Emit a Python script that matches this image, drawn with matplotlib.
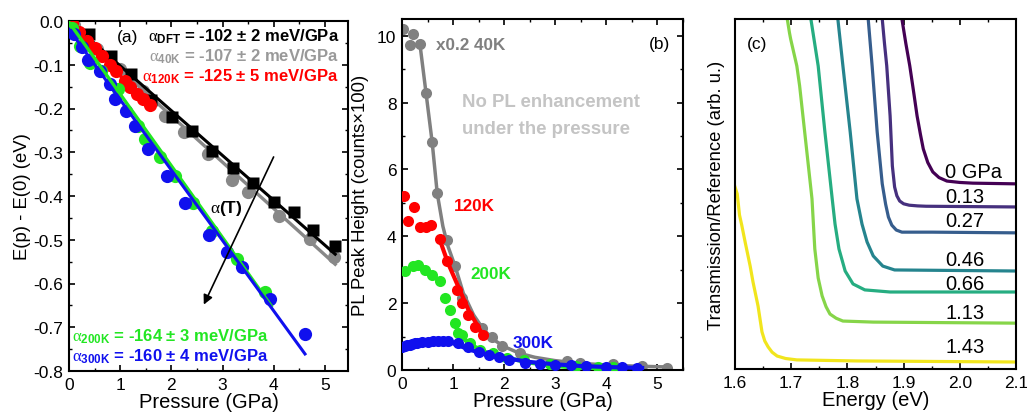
import matplotlib
matplotlib.use("Agg")
import matplotlib.pyplot as plt
from matplotlib.ticker import MultipleLocator, NullLocator, FormatStrFormatter
from matplotlib import cm

plt.rcParams['font.family'] = ['Liberation Sans', 'DejaVu Sans']
plt.rcParams['axes.unicode_minus'] = False
plt.rcParams['mathtext.fontset'] = 'custom'
plt.rcParams['mathtext.rm'] = 'Liberation Serif'
plt.rcParams['mathtext.it'] = 'Liberation Serif:italic'
plt.rcParams['mathtext.bf'] = 'Liberation Sans:bold'

# ---------------- Panel (a) data ----------------
dft_x = [0.385, 0.815, 1.21, 1.60, 2.01, 2.40, 2.79, 3.20, 3.60, 4.00, 4.39, 4.77, 5.20]
dft_y = [-0.030, -0.081, -0.122, -0.181, -0.220, -0.252, -0.298, -0.337, -0.371, -0.414, -0.437, -0.478, -0.515]
dft_fit_x = [0.0, 5.2]
dft_fit_y = [0.0, -0.533]

k40_x = [0.1, 0.55, 1.0, 1.45, 1.88, 2.25, 2.72, 3.18, 3.50, 4.10, 4.70, 5.18]
k40_y = [-0.010, -0.065, -0.110, -0.160, -0.217, -0.253, -0.305, -0.363, -0.390, -0.446, -0.499, -0.540]
k40_fit_x = [0.0, 5.2]
k40_fit_y = [-0.005, -0.556]

k120_x = [0.05, 0.2, 0.35, 0.5, 0.65, 0.8, 0.92, 1.09, 1.2, 1.33, 1.45, 1.58]
k120_y = [-0.005, -0.025, -0.045, -0.062, -0.080, -0.100, -0.115, -0.137, -0.150, -0.167, -0.178, -0.192]
k120_fit_x = [0.0, 1.6]
k120_fit_y = [0.0, -0.200]

k200_x = [0.05, 0.21, 0.41, 0.63, 0.96, 1.35, 1.48, 1.78, 2.07, 2.42, 2.79, 3.28, 3.83]
k200_y = [-0.015, -0.057, -0.095, -0.114, -0.156, -0.240, -0.270, -0.310, -0.355, -0.415, -0.480, -0.545, -0.620]
k200_fit_x = [0.0, 3.95]
k200_fit_y = [-0.003, -0.651]

k300_x = [0.1, 0.25, 0.37, 0.6, 0.8, 0.9, 1.12, 1.28, 1.54, 1.91, 2.26, 2.73, 3.08, 3.38, 3.92, 4.61]
k300_y = [-0.030, -0.060, -0.088, -0.114, -0.145, -0.179, -0.206, -0.240, -0.293, -0.355, -0.415, -0.490, -0.528, -0.563, -0.636, -0.716]
k300_fit_x = [0.0, 4.61]
k300_fit_y = [-0.019, -0.761]

arrow_start = (4.02, -0.305)
arrow_end = (2.61, -0.654)

# ---------------- Panel (b) data ----------------
pl40_x = [0.02, 0.16, 0.22, 0.35, 0.47, 0.59, 0.69, 0.88, 1.04, 1.17, 1.56, 1.76, 1.96, 2.30, 3.22, 3.48, 4.13, 4.69, 5.18]
pl40_y = [10.2, 9.73, 10.05, 9.76, 8.29, 6.82, 5.28, 3.90, 3.10, 2.16, 1.26, 1.00, 0.72, 0.51, 0.26, 0.21, 0.17, 0.12, 0.07]
pl40_line_x = [0.35, 0.47, 0.59, 0.69, 0.80, 0.90, 1.04, 1.20, 1.40, 1.60, 1.80, 2.00, 2.30, 2.60, 3.00, 3.50, 4.00, 4.50, 5.20]
pl40_line_y = [9.76, 8.29, 6.82, 5.28, 4.30, 3.70, 3.10, 2.30, 1.65, 1.20, 0.90, 0.70, 0.50, 0.38, 0.28, 0.20, 0.15, 0.12, 0.09]

pl120_x = [0.03, 0.12, 0.23, 0.36, 0.47, 0.57, 0.74, 0.88, 1.07, 1.18, 1.29, 1.42, 1.59]
pl120_y = [5.20, 4.45, 4.88, 4.27, 4.28, 4.35, 3.93, 3.25, 2.40, 2.00, 1.65, 1.30, 1.05]
pl120_line_x = [0.75, 0.90, 1.10, 1.30, 1.45, 1.60]
pl120_line_y = [3.85, 3.20, 2.50, 1.80, 1.40, 1.00]

pl200_x = [0.06, 0.22, 0.32, 0.45, 0.58, 0.74, 0.84, 0.94, 1.04, 1.10, 1.17, 1.33, 1.53, 1.79, 2.05, 2.38, 2.90, 3.40, 3.84, 4.13]
pl200_y = [2.95, 3.12, 3.15, 3.00, 2.85, 2.65, 2.15, 1.80, 1.40, 1.10, 1.05, 0.80, 0.60, 0.50, 0.35, 0.30, 0.18, 0.13, 0.10, 0.08]
pl200_line_x = [1.10, 1.30, 1.60, 2.00, 2.50, 3.00, 3.50, 3.95]
pl200_line_y = [1.10, 0.80, 0.55, 0.38, 0.22, 0.12, 0.06, 0.03]

pl300_x = [0.0, 0.05, 0.1, 0.15, 0.2, 0.25, 0.3, 0.4, 0.5, 0.6, 0.7, 0.8, 0.9, 1.1, 1.3, 1.5, 1.7, 1.9, 2.1, 2.4, 2.7, 3.0, 3.3, 3.6, 4.0, 4.3, 4.6]
pl300_y = [0.68, 0.72, 0.74, 0.76, 0.78, 0.80, 0.80, 0.83, 0.84, 0.86, 0.87, 0.88, 0.88, 0.82, 0.70, 0.55, 0.45, 0.38, 0.30, 0.22, 0.17, 0.15, 0.14, 0.12, 0.10, 0.09, 0.07]
pl300_line_x = [1.0, 1.3, 1.6, 2.0, 2.5, 3.0, 3.5, 4.0, 4.7]
pl300_line_y = [0.80, 0.62, 0.48, 0.36, 0.24, 0.17, 0.12, 0.09, 0.06]

# ---------------- Panel (c) data ----------------
pressures = ['0 GPa', '0.13', '0.27', '0.46', '0.66', '1.13', '1.43']
trans_E = [
    [1.897, 1.904, 1.911, 1.918, 1.924, 1.930, 1.935, 1.943, 1.952, 1.963, 1.977, 2.000, 2.023, 2.100],
    [1.862, 1.866, 1.870, 1.876, 1.880, 1.884, 1.888, 1.893, 1.900, 1.910, 1.925, 1.940, 2.100],
    [1.837, 1.844, 1.853, 1.862, 1.868, 1.873, 1.879, 1.887, 1.897, 1.912, 1.950, 2.100],
    [1.783, 1.792, 1.805, 1.817, 1.826, 1.835, 1.846, 1.863, 1.884, 2.100],
    [1.735, 1.748, 1.760, 1.773, 1.778, 1.785, 1.796, 1.810, 1.831, 1.876, 2.100],
    [1.693, 1.697, 1.699, 1.710, 1.715, 1.724, 1.737, 1.742, 1.748, 1.755, 1.762, 1.769, 1.780, 1.792, 1.846, 2.100],
    [1.598, 1.604, 1.608, 1.612, 1.618, 1.627, 1.632, 1.641, 1.648, 1.653, 1.659, 1.666, 1.675, 1.690, 1.710, 1.817, 2.100],
]
trans_T = [
    [1.000, 0.930, 0.866, 0.790, 0.723, 0.670, 0.629, 0.590, 0.563, 0.547, 0.537, 0.533, 0.531, 0.529],
    [1.000, 0.930, 0.866, 0.723, 0.580, 0.520, 0.495, 0.480, 0.472, 0.468, 0.466, 0.465, 0.463],
    [1.000, 0.866, 0.677, 0.529, 0.471, 0.434, 0.411, 0.397, 0.391, 0.391, 0.391, 0.389],
    [1.000, 0.866, 0.677, 0.486, 0.414, 0.363, 0.323, 0.294, 0.283, 0.280],
    [1.000, 0.866, 0.677, 0.486, 0.414, 0.343, 0.280, 0.243, 0.226, 0.220, 0.220],
    [1.000, 0.960, 0.943, 0.866, 0.809, 0.677, 0.486, 0.343, 0.260, 0.209, 0.178, 0.157, 0.145, 0.137, 0.134, 0.131],
    [0.530, 0.500, 0.440, 0.411, 0.363, 0.294, 0.249, 0.180, 0.106, 0.080, 0.063, 0.048, 0.037, 0.030, 0.026, 0.023, 0.020],
]
trans_label_y = [0.564, 0.494, 0.423, 0.314, 0.243, 0.160, 0.063]
viridis_pos = [0.0, 0.14, 0.29, 0.45, 0.62, 0.82, 0.98]

W, H = 1027, 414
fig = plt.figure(figsize=(W / 100, H / 100), dpi=100)

def style_ax(ax):
    for s in ax.spines.values():
        s.set_linewidth(1.5)
    ax.tick_params(which='both', direction='in', top=True, right=True, labelsize=12.5, pad=4)
    ax.tick_params(which='major', length=4, width=1.2)
    ax.tick_params(which='minor', length=2.5, width=1.0)

XL = 14.5
YL = 13.3

# Panel (a)
axa = fig.add_axes([69 / W, 1 - 372 / H, 279 / W, 350 / H])
style_ax(axa)
axa.plot(k40_x, k40_y, 'o', color='#888888', ms=9.5, mec='none', zorder=2)
axa.plot(k40_fit_x, k40_fit_y, '-', color='#888888', lw=2.4, zorder=3)
axa.plot(dft_fit_x, dft_fit_y, '-', color='black', lw=2.2, zorder=3)
axa.plot(dft_x, dft_y, 's', color='black', ms=9, mec='none', zorder=4)
axa.plot(k120_x, k120_y, 'o', color='#ff0000', ms=9.5, mec='none', zorder=5)
axa.plot(k120_fit_x, k120_fit_y, '-', color='#ff0000', lw=2.4, zorder=5)
axa.plot(k200_x, k200_y, 'o', color='#22e622', ms=9.5, mec='none', zorder=5)
axa.plot(k300_x, k300_y, 'o', color='#1010ee', ms=9.5, mec='none', zorder=6)
axa.plot(k200_fit_x, k200_fit_y, '-', color='#22e622', lw=2.4, zorder=7)
axa.plot(k300_fit_x, k300_fit_y, '-', color='#1010ee', lw=2.2, zorder=7)
axa.annotate('', xy=arrow_end, xytext=arrow_start,
             arrowprops=dict(arrowstyle='-|>', color='black', lw=1.2, mutation_scale=14), zorder=8)
axa.set_xlim(0, 5.45)
axa.set_ylim(-0.8, 0)
axa.xaxis.set_major_locator(MultipleLocator(1))
axa.xaxis.set_minor_locator(MultipleLocator(0.5))
axa.yaxis.set_major_locator(MultipleLocator(0.1))
axa.yaxis.set_minor_locator(MultipleLocator(0.05))
axa.yaxis.set_major_formatter(FormatStrFormatter('%.1f'))
axa.set_xlabel('Pressure (GPa)', fontsize=XL, labelpad=0)
axa.set_ylabel('E(p) - E(0) (eV)', fontsize=YL, labelpad=2)
ta = axa.transAxes
axa.text(0.17, 0.955, '(a)', transform=ta, fontsize=12.5, ha='left', va='center')
axa.text(0.968, 0.957, r'$\mathrm{\alpha}_{\mathbf{DFT}}$ = -102 ± 2 meV/GPa', transform=ta,
         fontsize=12, fontweight='bold', color='black', ha='right', va='center')
axa.text(0.968, 0.900, r'$\mathrm{\alpha}_{\mathbf{40K}}$ = -107 ± 2 meV/GPa', transform=ta,
         fontsize=12, fontweight='bold', color='#999999', ha='right', va='center')
axa.text(0.968, 0.843, r'$\mathrm{\alpha}_{\mathbf{120K}}$ = -125 ± 5 meV/GPa', transform=ta,
         fontsize=12, fontweight='bold', color='#ff0000', ha='right', va='center')
axa.text(0.012, 0.100, r'$\mathrm{\alpha}_{\mathbf{200K}}$ = -164 ± 3 meV/GPa', transform=ta,
         fontsize=12, fontweight='bold', color='#22e622', ha='left', va='center')
axa.text(0.012, 0.043, r'$\mathrm{\alpha}_{\mathbf{300K}}$ = -160 ± 4 meV/GPa', transform=ta,
         fontsize=12, fontweight='bold', color='#1010ee', ha='left', va='center')
axa.text(3.08, -0.426, r'$\mathrm{\alpha}$(T)', fontsize=12.5, fontweight='bold', ha='center', va='center')

# Panel (b)
axb = fig.add_axes([402 / W, 1 - 371 / H, 281 / W, 351 / H])
style_ax(axb)
axb.plot(pl40_line_x, pl40_line_y, '-', color='#808080', lw=2.5, zorder=2)
axb.plot(pl40_x, pl40_y, 'o', color='#808080', ms=8, mec='none', zorder=2)
axb.plot(pl120_x, pl120_y, 'o', color='#ff0000', ms=8, mec='none', zorder=3)
axb.plot(pl120_line_x, pl120_line_y, '-', color='#ff0000', lw=3, zorder=3)
axb.plot(pl200_x, pl200_y, 'o', color='#22e622', ms=8, mec='none', zorder=4)
axb.plot(pl200_line_x, pl200_line_y, '-', color='#22e622', lw=3, zorder=4)
axb.plot(pl300_x, pl300_y, 'o', color='#1010ee', ms=8, mec='none', zorder=5)
axb.plot(pl300_line_x, pl300_line_y, '-', color='#1010ee', lw=3, zorder=5)
axb.set_xlim(0, 5.5)
axb.set_ylim(0, 10.5)
axb.xaxis.set_major_locator(MultipleLocator(1))
axb.xaxis.set_minor_locator(MultipleLocator(0.5))
axb.yaxis.set_major_locator(MultipleLocator(2))
axb.yaxis.set_minor_locator(MultipleLocator(1))
axb.set_xlabel('Pressure (GPa)', fontsize=XL, labelpad=0)
axb.set_ylabel('PL Peak Height (counts×100)', fontsize=YL, labelpad=6)
tb = axb.transAxes
axb.text(0.915, 0.93, '(b)', transform=tb, fontsize=12.5, ha='center', va='center')
axb.text(0.12, 0.927, 'x0.2 40K', transform=tb, fontsize=12.3, fontweight='bold', color='#808080', ha='left', va='center')
axb.text(0.215, 0.765, 'No PL enhancement', transform=tb, fontsize=13.4, fontweight='bold', color='#c4c4c4', ha='left', va='center')
axb.text(0.215, 0.688, 'under the pressure', transform=tb, fontsize=13.4, fontweight='bold', color='#c4c4c4', ha='left', va='center')
axb.text(0.183, 0.470, '120K', transform=tb, fontsize=12.3, fontweight='bold', color='#ff0000', ha='left', va='center')
axb.text(0.243, 0.275, '200K', transform=tb, fontsize=12.3, fontweight='bold', color='#22e622', ha='left', va='center')
axb.text(0.395, 0.078, '300K', transform=tb, fontsize=12.3, fontweight='bold', color='#1010ee', ha='left', va='center')

# Panel (c)
axc = fig.add_axes([735 / W, 1 - 370 / H, 281 / W, 350 / H])
style_ax(axc)
axc.tick_params(which='both', left=False, right=False, labelleft=False)
for i, lab in enumerate(pressures):
    col = cm.viridis(viridis_pos[i])
    axc.plot(trans_E[i], trans_T[i], '-', color=col, lw=2.3, solid_capstyle='round', solid_joinstyle='round')
    axc.text(1.974, trans_label_y[i], lab, fontsize=14.5, ha='left', va='center')
axc.set_xlim(1.6, 2.1)
axc.set_ylim(0, 1)
axc.xaxis.set_major_locator(MultipleLocator(0.1))
axc.xaxis.set_minor_locator(MultipleLocator(0.05))
axc.yaxis.set_major_locator(NullLocator())
axc.xaxis.set_major_formatter(FormatStrFormatter('%.1f'))
axc.set_xlabel('Energy (eV)', fontsize=XL, labelpad=0)
axc.set_ylabel('Transmission/Reference (arb. u.)', fontsize=YL, labelpad=7)
axc.text(0.08, 0.93, '(c)', transform=axc.transAxes, fontsize=12.5, ha='center', va='center')

fig.savefig('out.png', dpi=100)
